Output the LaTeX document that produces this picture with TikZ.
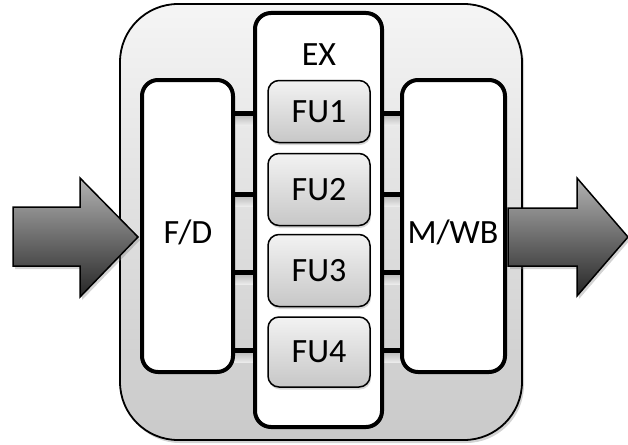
\documentclass[tikz,border=0pt]{standalone}
\usepackage{fontspec}
\setmainfont{Carlito}
\usetikzlibrary{shadows}
\begin{document}
\begin{tikzpicture}[x=1pt,y=-1pt,
  lbl/.style={font=\fontsize{34}{40}\selectfont, inner sep=0pt},
  outerbox/.style={draw=black, line width=1.8pt, rounded corners=58pt, top color=black!4, bottom color=black!21,
    minimum width=402pt, minimum height=436pt, inner sep=0pt,
    drop shadow={opacity=0.35, shadow xshift=2pt, shadow yshift=-3pt}},
  stagebox/.style={draw=black, line width=4pt, fill=white, rounded corners=16pt, inner sep=0pt},
  fubox/.style={draw=black, line width=1.5pt, rounded corners=11pt, top color=black!5, bottom color=black!22,
    minimum width=102pt, inner sep=0pt, font=\fontsize{34}{40}\selectfont,
    drop shadow={opacity=0.3, shadow xshift=1pt, shadow yshift=-2.5pt}},
  bar/.style={line width=5pt},
  barshade/.style={top color=black!30, bottom color=black!8, draw=none},
  bigarrow/.style={draw=black, line width=1.5pt, line join=miter, top color=black!30, bottom color=black!85,
    drop shadow={opacity=0.35, shadow xshift=2pt, shadow yshift=-3pt}}
]
\useasboundingbox (0,0) rectangle (628,444);

% processor outline
\node[outerbox] (cpu) at (321,222) {};

% soft shading below the buses
\foreach \yy in {113,194,272,350}{
  \shade[barshade] (233,\yy) rectangle (255,\yy+12);
  \shade[barshade] (382,\yy) rectangle (402,\yy+12);
}

% pipeline stages
\node[stagebox, minimum width=91pt, minimum height=292pt] (fd) at (187.5,226) {};
\node[stagebox, minimum width=127pt, minimum height=414pt] (ex) at (318.5,220) {};
\node[stagebox, minimum width=103pt, minimum height=292pt] (mwb) at (453.5,226) {};

\node[lbl] (fdl) at (188,232) {F/D};
\node[lbl] (exl) at (319,55) {EX};
\node[lbl] (mwbl) at (453,232) {M/WB};

% functional units
\node[fubox, minimum height=62pt] (fu1) at (319,111.5) {FU1};
\node[fubox, minimum height=72pt] (fu2) at (319,189.5) {FU2};
\node[fubox, minimum height=72pt] (fu3) at (319,270.5) {FU3};
\node[fubox, minimum height=70pt] (fu4) at (319,352) {FU4};

% bus levels
\coordinate (l1) at (0,113);
\coordinate (l2) at (0,194);
\coordinate (l3) at (0,272);
\coordinate (l4) at (0,350);

\foreach \l in {l1,l2,l3,l4}{
  \draw[bar] (fd.east |- \l) -- (ex.west |- \l);
  \draw[bar] (ex.east |- \l) -- (mwb.west |- \l);
}

% input / output arrows
\path[bigarrow] (13,207) -- (80,207) -- (80,178) -- (138,237) -- (80,297) -- (80,266) -- (13,266) -- cycle;
\path[bigarrow] (508,208) -- (577,208) -- (577,178) -- (628,237) -- (577,296) -- (577,266) -- (508,266) -- cycle;
\end{tikzpicture}
\end{document}
